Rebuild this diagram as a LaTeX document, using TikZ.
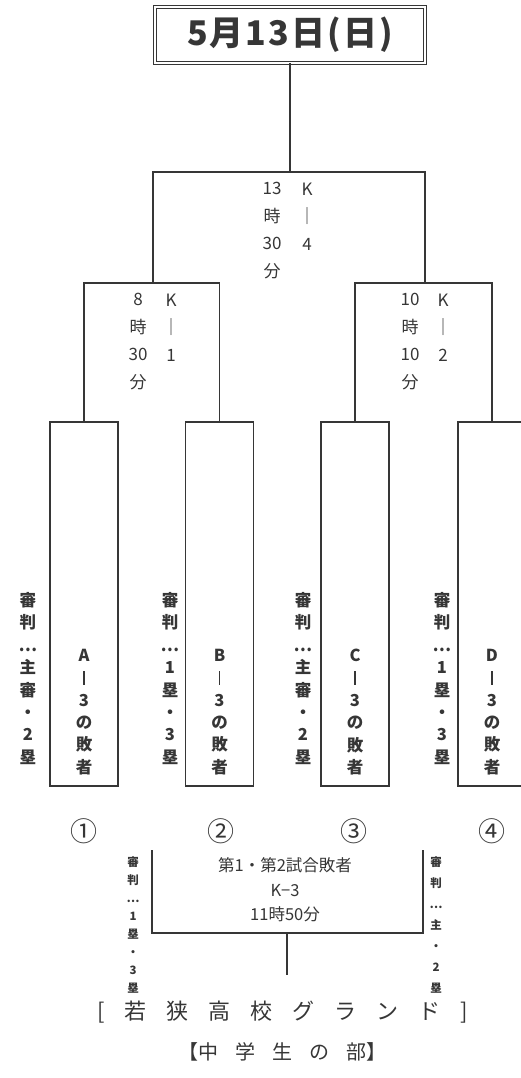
\documentclass[tikz,border=0pt]{standalone}
\usepackage{fontspec}
\setmainfont{Noto Sans CJK JP}
\usetikzlibrary{positioning}
\definecolor{ink}{HTML}{363636}
\newcommand\gp{\hspace{20pt}}
\newcommand\gq{\hspace{17pt}}
\newcommand\vbar{\rule[-1pt]{1.6pt}{14pt}}

\begin{document}
\begin{tikzpicture}[x=1pt,y=-1pt,line width=1.1pt,color=ink,
    every node/.style={inner sep=0pt},
    colnum/.style={font=\fontsize{17}{27.5}\selectfont,align=center,anchor=north},
    loser/.style={draw,minimum width=68pt,minimum height=364pt},
    vtext/.style={font=\bfseries\fontsize{16.5}{22.4}\selectfont,align=center},
    reftext/.style={font=\bfseries\fontsize{11.5}{18}\selectfont,align=center}]

      \clip (0,0) rectangle (521,1078);

      % date
      \node[draw,double,double distance=2.2pt,line width=0.9pt,
            minimum width=270pt,minimum height=56pt,
            font=\bfseries\fontsize{34}{34}\selectfont\addfontfeatures{LetterSpace=6}] (title) at (290,35) {5月13日(日)};

      % first round
      \foreach \t/\x/\rx/\u/\v in {A/84/28/{主\\審}/2,B/219.5/170/{1\\塁}/3,
                                   C/355/303/{主\\審}/2,D/492/442/{1\\塁}/3}
      { \node[loser] (box\t) at (\x,604) {};
        \node[vtext] (los\t) at (\x,712) {\t\\\vbar\\3\\の\\敗\\者};
        \node[vtext] (ref\t) at (\rx,678.5) {審\\判\\…\\\u\\・\\\v\\塁}; }

      % circled numbers
      \foreach \t/\x/\c in {A/84/①,B/221/②,C/354/③,D/492/④}
      { \node[font=\fontsize{27}{27}\selectfont] (no\t) at (\x,831) {\c}; }

      % semifinals
      \path (153,283) coordinate (sf1);
      \path (425,283) coordinate (sf2);
      \draw (boxA.north) |- (sf1) -| (boxB.north);
      \draw (boxC.north) |- (sf2) -| (boxD.north);
      \node[colnum] (sf1time) at (138,293) {8\\時\\30\\分};
      \node[colnum] (sf1code) at (171,293) {K\\｜\\1};
      \node[colnum] (sf2time) at (410,293) {10\\時\\10\\分};
      \node[colnum] (sf2code) at (443,293) {K\\｜\\2};

      % final
      \path (290,172) coordinate (fin);
      \draw (sf1) |- (fin) -| (sf2);
      \draw (title.south) -- (fin);
      \node[colnum] (fintime) at (272,182) {13\\時\\30\\分};
      \node[colnum] (fincode) at (307,182) {K\\｜\\4};

      % losers' match
      \path (152,850) coordinate (k3L);
      \path (423,850) coordinate (k3R);
      \path (287,933) coordinate (k3);
      \path (287,975) coordinate (k3end);
      \draw (k3L) |- (k3) -| (k3R);
      \draw (k3) -- (k3end);
      \node[font=\fontsize{16.5}{24.5}\selectfont,align=center] (k3text) at (285,890) {第1・第2試合敗者\\K−3\\11時50分};
      \node[reftext] (k3refL) at (133,925) {審\\判\\…\\1\\塁\\・\\3\\塁};
      \node[reftext,font=\bfseries\fontsize{11.5}{21}\selectfont] (k3refR) at (436,925) {審\\判\\…\\主\\・\\2\\塁};

      % ground
      \node[font=\fontsize{22}{22}\selectfont] (venue) at (283,1012) {[\gp 若\gp 狭\gp 高\gp 校\gp グ\gp ラ\gp ン\gp ド\gp ]};
      \node[font=\fontsize{20}{20}\selectfont] (part) at (282,1052) {【中\gq 学\gq 生\gq の\gq 部】};

\end{tikzpicture}
\end{document}
